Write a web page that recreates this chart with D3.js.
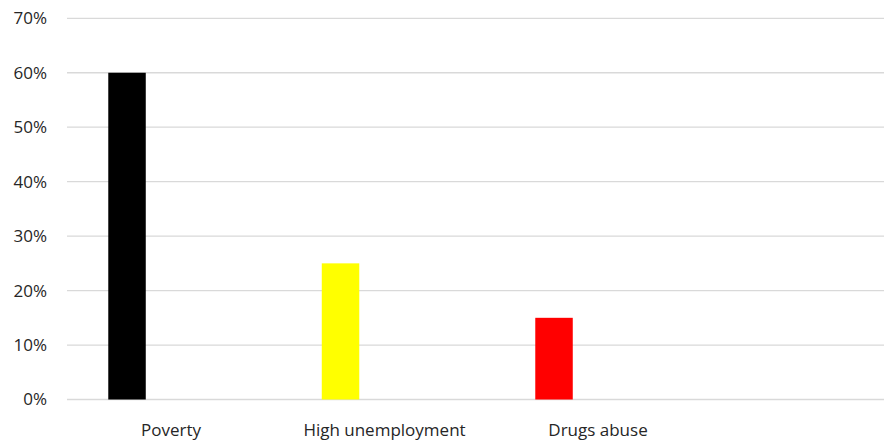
<!DOCTYPE html>
<html>
<head>
<meta charset="utf-8">
<script src="https://cdn.jsdelivr.net/npm/d3@7"></script>
<style>
	body { margin: 0; background: #fff; }
	text { font-family: "Open Sans", sans-serif; fill: #262626; }
</style>
</head>
<body>
<svg id="graph"></svg>
<script>
var categories = ["Poverty", "High unemployment", "Drugs abuse"],
	values = [0.60, 0.25, 0.15],
	colors = ["#000000", "#ffff00", "#ff0000"],
	yTicks = [0, 0.1, 0.2, 0.3, 0.4, 0.5, 0.6, 0.7];

document.addEventListener("DOMContentLoaded", function(event) {
	var margin = {top: 18.3, left: 67, right: 0, bottom: 43.5},
		width = 884 - margin.left - margin.right,
		height = 443 - margin.top - margin.bottom,
		graph = d3.select("#graph"),
		g = graph.append("g").attr("transform", "translate(" + margin.left + "," + margin.top + ")");

	graph.attr("width", width + margin.left + margin.right)
		.attr("height", height + margin.top + margin.bottom);

	//scales
	var x = d3.scaleBand().domain(categories).range([-2.75, 637.75]),
		y = d3.scaleLinear().domain([0, 0.7]).range([height, 0]);

	//gridlines
	g.append("g")
		.attr("class", "grid")
		.selectAll("line")
		.data(yTicks)
		.enter().append("line")
			.attr("x1", 0)
			.attr("x2", width)
			.attr("y1", function(d) { return y(d); })
			.attr("y2", function(d) { return y(d); })
			.attr("stroke", "#d9d9d9")
			.attr("stroke-width", 1.3);

	//y labels
	g.append("g")
		.attr("class", "axis yaxis")
		.selectAll("text")
		.data(yTicks)
		.enter().append("text")
			.attr("x", -20)
			.attr("y", function(d) { return y(d); })
			.attr("dy", "0.35em")
			.attr("text-anchor", "end")
			.style("font-size", "17px")
			.text(d3.format(".0%"));

	//bars
	var barW = x.bandwidth() * 0.1756;
	g.append("g")
		.attr("class", "bars")
		.selectAll("rect")
		.data(categories)
		.enter().append("rect")
			.attr("x", function(d) { return x(d) + x.bandwidth() * 0.2062; })
			.attr("width", barW)
			.attr("y", function(d, i) { return y(values[i]); })
			.attr("height", function(d, i) { return height - y(values[i]); })
			.attr("fill", function(d, i) { return colors[i]; });

	//x labels
	g.append("g")
		.attr("class", "axis xaxis")
		.selectAll("text")
		.data(categories)
		.enter().append("text")
			.attr("x", function(d) { return x(d) + x.bandwidth() / 2; })
			.attr("y", height + 37)
			.attr("text-anchor", "middle")
			.style("font-size", "17px")
			.text(function(d) { return d; });
});
</script>
</body>
</html>
